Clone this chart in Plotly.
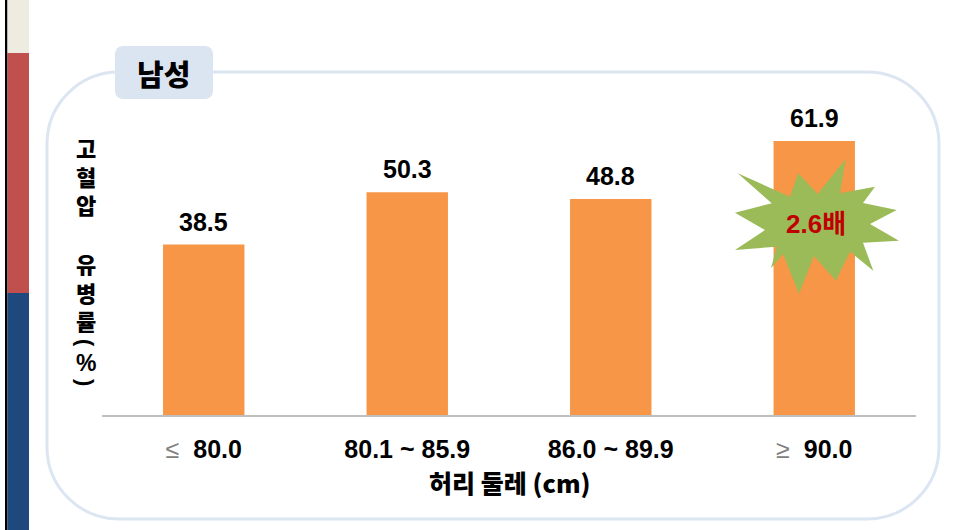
import plotly.graph_objects as go

# Hypertension prevalence by waist circumference (men)
categories = ["≤ 80.0", "80.1 ~ 85.9", "86.0 ~ 89.9", "≥ 90.0"]
prevalence = [38.5, 50.3, 48.8, 61.9]
group_label = "남성"
x_title = "허리 둘레 (cm)"
y_title_words = ["고혈압", "유병률"]
y_title_unit = ["(", "%", ")"]
ratio_label = "2.6배"

W, H = 957, 530
ML, MR, MT, MB = 102, 41, 70, 115
PW, PH = W - ML - MR, H - MT - MB

NUM_FONT = "Liberation Sans, Arial, Noto Sans CJK KR, sans-serif"
KR_FONT = "Noto Sans CJK KR, sans-serif"


def px(x):
    return (x - ML) / PW


def py(y):
    return (H - MB - y) / PH


def tick_text(label):
    # the comparison symbols are set lighter and grey
    if label[0] in "≤≥":
        return ("<span style='font-weight:normal;fill:#808080'>" + label[0]
                + "</span>  " + label[2:])
    return label


def rounded_rect(x0, y0, x1, y1, r):
    k = 0.5523 * r
    pts = [
        ("M", [(x0 + r, y0)]),
        ("L", [(x1 - r, y0)]),
        ("C", [(x1 - r + k, y0), (x1, y0 + r - k), (x1, y0 + r)]),
        ("L", [(x1, y1 - r)]),
        ("C", [(x1, y1 - r + k), (x1 - r + k, y1), (x1 - r, y1)]),
        ("L", [(x0 + r, y1)]),
        ("C", [(x0 + r - k, y1), (x0, y1 - r + k), (x0, y1 - r)]),
        ("L", [(x0, y0 + r)]),
        ("C", [(x0, y0 + r - k), (x0 + r - k, y0), (x0 + r, y0)]),
    ]
    out = []
    for cmd, ps in pts:
        out.append(cmd + " ".join(f"{px(a):.5f},{py(b):.5f}" for a, b in ps))
    return " ".join(out) + " Z"


def polygon(points):
    return "M" + " L".join(f"{px(a):.5f},{py(b):.5f}" for a, b in points) + " Z"


# burst outline (alternating outer tips and inner notches, in pixels)
burst = [
    (737.7, 173.3), (790.0, 196.7), (798.3, 173.3), (817.7, 194.0),
    (845.7, 159.0), (840.0, 193.3), (875.0, 186.7), (863.0, 203.0),
    (896.7, 210.0), (870.0, 224.0), (899.0, 240.7), (863.0, 242.7),
    (873.3, 270.7), (850.0, 251.7), (836.0, 280.7), (814.0, 256.0),
    (799.0, 294.0), (783.0, 254.0), (771.0, 268.3), (776.7, 246.7),
    (735.0, 250.0), (765.0, 230.0), (735.0, 212.7), (771.7, 203.3),
]

fig = go.Figure(
    go.Bar(
        x=categories,
        y=prevalence,
        marker=dict(color="#f79646", line=dict(width=0)),
        hoverinfo="skip",
    )
)

shapes = [
    # side strip
    dict(type="rect", xref="paper", yref="paper", x0=px(5), x1=px(7.5), y0=py(0), y1=py(H),
         fillcolor="#000000", line=dict(width=0), layer="below"),
    dict(type="rect", xref="paper", yref="paper", x0=px(7.5), x1=px(29), y0=py(0), y1=py(53),
         fillcolor="#eeece1", line=dict(width=0), layer="below"),
    dict(type="rect", xref="paper", yref="paper", x0=px(7.5), x1=px(29), y0=py(53), y1=py(293),
         fillcolor="#c0504d", line=dict(width=0), layer="below"),
    dict(type="rect", xref="paper", yref="paper", x0=px(7.5), x1=px(29), y0=py(293), y1=py(H),
         fillcolor="#1f497d", line=dict(width=0), layer="below"),
    # rounded panel frame
    dict(type="path", xref="paper", yref="paper", path=rounded_rect(47, 72, 939, 519, 72),
         line=dict(color="#dce6f2", width=3), fillcolor="rgba(0,0,0,0)", layer="below"),
    # group tag
    dict(type="path", xref="paper", yref="paper", path=rounded_rect(115, 46, 213, 99, 8),
         line=dict(width=0), fillcolor="#dbe5f1", layer="above"),
    # burst highlight
    dict(type="path", xref="paper", yref="paper", path=polygon(burst),
         line=dict(width=0), fillcolor="#9bbb59", layer="above"),
]

annotations = []
for cat, val in zip(categories, prevalence):
    annotations.append(dict(
        x=cat, y=val, xref="x", yref="y", text=f"{val:.1f}", showarrow=False,
        yanchor="bottom", yshift=7,
        font=dict(family=NUM_FONT, size=25, color="#000000", weight="bold"),
    ))

annotations.append(dict(
    x=px(163), y=py(73), xref="paper", yref="paper", text=group_label, showarrow=False,
    xanchor="center", yanchor="middle",
    font=dict(family=KR_FONT, size=29, color="#000000", weight=900),
))

# vertical axis caption: each word stacked one glyph per line
for word, yy in zip(y_title_words, [175, 291]):
    annotations.append(dict(
        x=px(86), y=py(yy), xref="paper", yref="paper", text="<br>".join(word),
        showarrow=False, xanchor="center", yanchor="middle",
        font=dict(family=KR_FONT, size=22, color="#000000", weight=900),
    ))

# unit in brackets, brackets turned sideways
for ch, yy in zip(y_title_unit, [343, 363, 382]):
    turned = ch in "()"
    annotations.append(dict(
        x=px(86), y=py(yy), xref="paper", yref="paper", text=ch, showarrow=False,
        xanchor="center", yanchor="middle", textangle=90 if turned else 0,
        font=dict(family=NUM_FONT, size=22 if turned else 23,
                  color="#000000", weight="bold"),
    ))

annotations.append(dict(
    x=px(510), y=py(482), xref="paper", yref="paper", text=x_title, showarrow=False,
    xanchor="center", yanchor="middle",
    font=dict(family=KR_FONT, size=25, color="#000000", weight=900),
))

annotations.append(dict(
    x=px(816), y=py(224), xref="paper", yref="paper", text=ratio_label, showarrow=False,
    xanchor="center", yanchor="middle",
    font=dict(family=NUM_FONT, size=26, color="#c00000", weight="bold"),
))

fig.update_layout(
    width=W, height=H,
    margin=dict(l=ML, r=MR, t=MT, b=MB),
    paper_bgcolor="#ffffff", plot_bgcolor="#ffffff",
    bargap=0.6,
    showlegend=False,
    shapes=shapes,
    annotations=annotations,
    xaxis=dict(
        tickmode="array", tickvals=categories, ticktext=[tick_text(c) for c in categories],
        tickfont=dict(family=NUM_FONT, size=25, color="#000000", weight="bold"),
        showline=True, linecolor="#bfbfbf", linewidth=1.5,
        ticks="", showgrid=False, zeroline=False, ticklabelstandoff=11,
    ),
    yaxis=dict(
        range=[0, PH / 4.427], visible=False, showgrid=False, zeroline=False,
    ),
)

fig.write_html("out.html")
